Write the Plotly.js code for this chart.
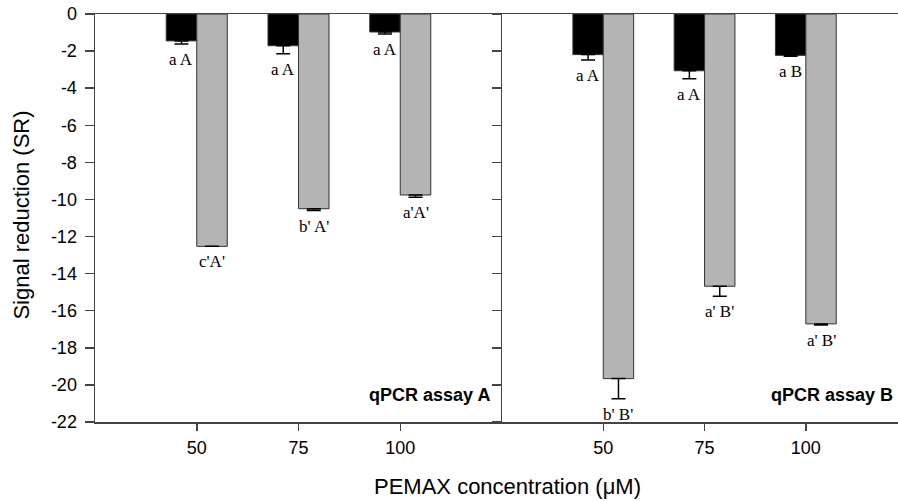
<!DOCTYPE html>
<html>
<head>
<meta charset="utf-8">
<script src="https://cdn.plot.ly/plotly-3.0.1.min.js"></script>
<style>html,body{margin:0;padding:0;background:#fff;}#chart{width:898px;height:501px;}</style>
</head>
<body>
<div id="chart"></div>
<script>
// ---- data ----
var concentrations = ["50", "75", "100"];

// qPCR assay A
var assayA_black = [-1.45, -1.71, -0.97];
var assayA_black_err = [0.17, 0.43, 0.11];
var assayA_grey = [-12.53, -10.5, -9.76];
var assayA_grey_err = [0.0, 0.1, 0.12];
var assayA_black_labels = ["a A", "a A", "a A"];
var assayA_grey_labels = ["c'A'", "b' A'", "a'A'"];

// qPCR assay B
var assayB_black = [-2.19, -3.06, -2.23];
var assayB_black_err = [0.29, 0.43, 0.05];
var assayB_grey = [-19.66, -14.68, -16.71];
var assayB_grey_err = [1.08, 0.54, 0.06];
var assayB_black_labels = ["a A", "a A", "a B"];
var assayB_grey_labels = ["b' B'", "a' B'", "a' B'"];

var yTickVals = [0, -2, -4, -6, -8, -10, -12, -14, -16, -18, -20, -22];
var yTickText = ["0", "-2", "-4", "-6", "-8", "-10", "-12", "-14", "-16", "-18", "-20", "-22"];

var panelA = "qPCR assay A";
var panelB = "qPCR assay B";
var xTitle = "PEMAX concentration (\u03bcM)";
var yTitle = "Signal reduction (SR)";

// ---- styles ----
var AX = "#444";
var GREY = "#b4b4b4";
function zeros(n){ var a=[]; for(var i=0;i<n;i++) a.push(0); return a; }
function errStyle(errs){
  return {type:"data", symmetric:false, array:zeros(errs.length), arrayminus:errs,
          color:"#000", thickness:1.5, width:7};
}
function barTrace(y, errs, color, xa, ya){
  return {type:"bar", x:concentrations, y:y, xaxis:xa, yaxis:ya,
          marker:{color:color, line:{color:"#333", width:1}},
          error_y:errStyle(errs), showlegend:false, hoverinfo:"none"};
}

var data = [
  barTrace(assayA_black, assayA_black_err, "#000", "x", "y"),
  barTrace(assayA_grey, assayA_grey_err, GREY, "x", "y"),
  barTrace(assayB_black, assayB_black_err, "#000", "x2", "y2"),
  barTrace(assayB_grey, assayB_grey_err, GREY, "x2", "y2")
];

var annotations = [];
function addLabels(vals, errs, labels, offset, xr, yr){
  for (var i = 0; i < vals.length; i++) {
    annotations.push({xref:xr, yref:yr, x:i + offset, y:vals[i] - errs[i],
      text:labels[i], showarrow:false, xanchor:"center", yanchor:"top", yshift:-4,
      font:{family:"Liberation Serif, Times New Roman, serif", size:17, color:"#000"}});
  }
}
addLabels(assayA_black, assayA_black_err, assayA_black_labels, -0.15, "x", "y");
addLabels(assayA_grey, assayA_grey_err, assayA_grey_labels, 0.15, "x", "y");
addLabels(assayB_black, assayB_black_err, assayB_black_labels, -0.15, "x2", "y2");
addLabels(assayB_grey, assayB_grey_err, assayB_grey_labels, 0.15, "x2", "y2");

var boldFont = {family:"Liberation Sans, Arial, sans-serif", size:18, color:"#000", weight:"bold"};
annotations.push({xref:"x domain", yref:"y domain", x:1, y:0, xanchor:"right", yanchor:"middle",
  xshift:-10, yshift:27, text:"<b>" + panelA + "</b>", showarrow:false, font:boldFont});
annotations.push({xref:"x2 domain", yref:"y2 domain", x:1, y:0, xanchor:"right", yanchor:"middle",
  xshift:-3, yshift:27, text:"<b>" + panelB + "</b>", showarrow:false, font:boldFont});

var titleFont = {family:"Liberation Sans, Arial, sans-serif", size:22, color:"#000"};
annotations.push({xref:"paper", yref:"paper", x:0.5137, y:-0.158, xanchor:"center", yanchor:"middle",
  text:xTitle, showarrow:false, font:titleFont});
annotations.push({xref:"paper", yref:"paper", x:-0.0909, y:0.506, xanchor:"center", yanchor:"middle",
  textangle:-90, text:yTitle, showarrow:false, font:titleFont});

var tickFont = {family:"Liberation Sans, Arial, sans-serif", size:18, color:"#000"};
var split = 407/803;

var layout = {
  width:898, height:501,
  margin:{l:95, r:0, t:14, b:79},
  paper_bgcolor:"#fff", plot_bgcolor:"#fff",
  barmode:"group", bargap:0.4, bargroupgap:0,
  showlegend:false,
  xaxis:{domain:[0, split], anchor:"y", type:"category", range:[-1, 3],
    showline:true, linecolor:AX, linewidth:1.5, mirror:true,
    ticks:"outside", ticklen:7, tickcolor:AX, tickwidth:1.5,
    showgrid:false, zeroline:false, tickfont:tickFont, ticklabelstandoff:2, fixedrange:true},
  xaxis2:{domain:[split, 1], anchor:"y2", type:"category", range:[-1, 2.91],
    showline:true, linecolor:AX, linewidth:1.5, mirror:true,
    ticks:"outside", ticklen:7, tickcolor:AX, tickwidth:1.5,
    showgrid:false, zeroline:false, tickfont:tickFont, ticklabelstandoff:2, fixedrange:true},
  yaxis:{domain:[0,1], anchor:"x", range:[-22, 0],
    tickvals:yTickVals, ticktext:yTickText,
    showline:true, linecolor:AX, linewidth:1.5,
    ticks:"outside", ticklen:9, tickcolor:AX, tickwidth:1.5,
    showgrid:false, zeroline:false, tickfont:tickFont, ticklabelstandoff:4, fixedrange:true},
  yaxis2:{domain:[0,1], anchor:"x2", range:[-22, 0], matches:"y",
    tickvals:yTickVals, showticklabels:false,
    showline:true, linecolor:AX, linewidth:1.5,
    ticks:"outside", ticklen:9, tickcolor:AX, tickwidth:1.5,
    showgrid:false, zeroline:false, fixedrange:true},
  annotations:annotations
};

Plotly.newPlot("chart", data, layout, {displayModeBar:false, staticPlot:true});
</script>
</body>
</html>
